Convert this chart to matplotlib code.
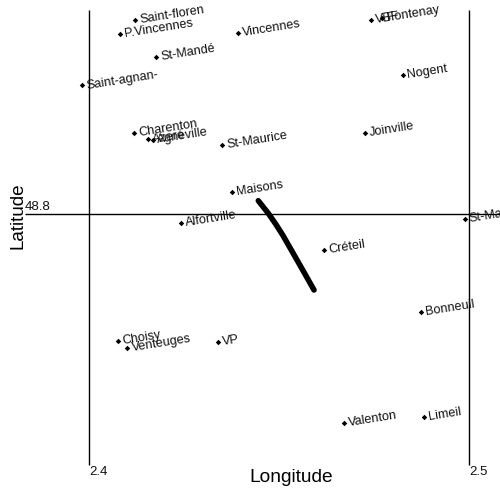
import matplotlib
matplotlib.use("Agg")
import matplotlib.pyplot as plt

plt.rcParams['font.family'] = ['Liberation Sans', 'DejaVu Sans']

names = ["Saint-floren", "P.Vincennes", "Vincennes", "St-Mandé", "Saint-agnan-",
         "Charenton", "Azeré", "Agneville", "St-Maurice", "Maisons", "Alfortville",
         "Créteil", "St-Maur", "VBF", "Fontenay", "Nogent", "Joinville", "Bonneuil",
         "Limeil", "Valenton", "Choisy", "Venteuges", "VP"]
lons = [2.4121, 2.4082, 2.4392, 2.4176, 2.3982,
        2.4118, 2.4155, 2.4168, 2.4350, 2.4376, 2.4242,
        2.4618, 2.4989, 2.4742, 2.4771, 2.4826, 2.4726, 2.4874,
        2.4882, 2.4671, 2.4076, 2.4100, 2.4339]
lats = [48.8511, 48.8474, 48.8476, 48.8413, 48.8339,
        48.8213, 48.8197, 48.8195, 48.8182, 48.8058, 48.7976,
        48.7905, 48.7987, 48.8511, 48.8516, 48.8366, 48.8213, 48.7742,
        48.7466, 48.7450, 48.7666, 48.7647, 48.7663]
route_lon = [2.44455, 2.44718, 2.44921, 2.45105, 2.45368, 2.45639, 2.45921]
route_lat = [48.8035, 48.80018, 48.79724, 48.79434, 48.78974, 48.7850, 48.7800]
x_ticks = [2.4, 2.5]
x_tick_labels = ["2.4", "2.5"]
y_ticks = [48.8]
y_tick_labels = ["48.8"]

W = 500
SCALE = 3800.0
fig = plt.figure(figsize=(5, 5), dpi=100)
ax = fig.add_axes([0, 0, 1, 1])
ax.set_xlim(2.4 - 89 / SCALE, 2.4 + (W - 89) / SCALE)
ax.set_ylim(48.8 - (W - 214) / SCALE, 48.8 + 214 / SCALE)
ax.axis("off")

# grid lines
ax.vlines(x_ticks, 48.8 - (465 - 214) / SCALE, 48.8 + (214 - 10) / SCALE, color="black", lw=1)
ax.hlines(y_ticks, 2.4 - (89 - 25) / SCALE, ax.get_xlim()[1], color="black", lw=1)

# route
ax.plot(route_lon, route_lat, color="black", lw=4, solid_capstyle="round", solid_joinstyle="round")

# towns
ax.plot(lons, lats, ls="none", marker="D", ms=2.8, color="black", mew=0)
for n, x, y in zip(names, lons, lats):
    ax.annotate(n, (x, y), xytext=(3.3, -0.3), textcoords="offset points", fontsize=9.1,
                rotation=9, rotation_mode="anchor", ha="left", va="center",
                color="#111111", annotation_clip=False)

for t, l in zip(x_ticks, x_tick_labels):
    ax.annotate(l, (t, 48.8 - (465 - 214) / SCALE), xytext=(0.5, -0.5), textcoords="offset points",
                ha="left", va="top", fontsize=9.5, color="#111111")
for t, l in zip(y_ticks, y_tick_labels):
    ax.annotate(l, (2.4 - (89 - 25) / SCALE, t), xytext=(0, 0.5), textcoords="offset points",
                ha="left", va="bottom", fontsize=9.5, color="#111111")

fig.text(291.5 / W, 1 - 477 / W, "Longitude", fontsize=13.8, ha="center", va="center")
fig.text(18 / W, 1 - 216 / W, "Latitude", fontsize=13.6, ha="center", va="center", rotation=90)

fig.savefig("out.png", dpi=100)
